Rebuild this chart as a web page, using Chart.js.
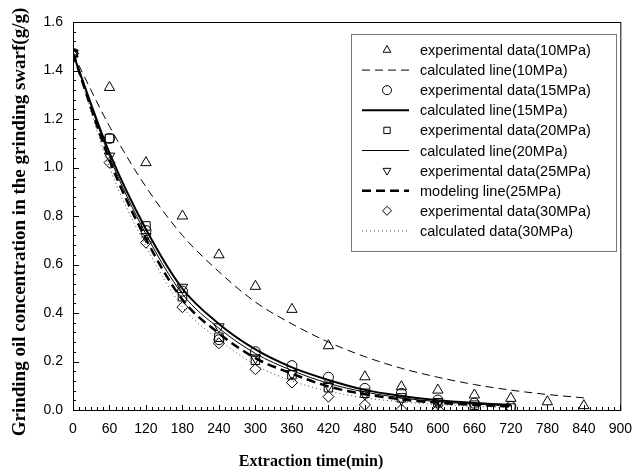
<!DOCTYPE html>
<html>
<head>
<meta charset="utf-8">
<script src="https://cdn.jsdelivr.net/npm/chart.js@4.4.0/dist/chart.umd.min.js"></script>
<style>
  html, body { margin: 0; padding: 0; background: #fff; }
  #wrap { width: 643px; height: 473px; }
</style>
</head>
<body>
<div id="wrap"><canvas id="chart" width="643" height="473"></canvas></div>
<script>
// Extraction times (min)
const times = [0, 60, 120, 180, 240, 300, 360, 420, 480, 540, 600, 660, 720, 780, 840];

// Experimental points
const exp10 = [1.47, 1.33, 1.02, 0.80, 0.64, 0.51, 0.415, 0.265, 0.137, 0.096, 0.082, 0.062, 0.048, 0.034, 0.018];
const exp15 = [1.47, 1.12, 0.74, 0.49, 0.29, 0.24, 0.183, 0.135, 0.089, 0.069, 0.041, 0.028, 0.015];
const exp20 = [1.47, 1.12, 0.759, 0.467, 0.30, 0.205, 0.145, 0.092, 0.069, 0.05, 0.03, 0.02, 0.008];
const exp25 = [1.47, 1.047, 0.715, 0.506, 0.343, 0.215, 0.15, 0.10, 0.065, 0.045, 0.025];
const exp30 = [1.47, 1.02, 0.69, 0.424, 0.275, 0.168, 0.113, 0.055, 0.021, 0.002, 0.002];

// Calculated / modeling lines, sampled every 60 min
const calc10 = [1.47, 1.17, 0.92, 0.72, 0.57, 0.445, 0.355, 0.28, 0.22, 0.172, 0.135, 0.105, 0.082, 0.064, 0.05];
const calc15 = [1.47, 1.06, 0.745, 0.50, 0.355, 0.25, 0.176, 0.124, 0.083, 0.058, 0.04, 0.029, 0.021];
const calc20 = [1.47, 1.045, 0.725, 0.478, 0.337, 0.233, 0.163, 0.11, 0.074, 0.05, 0.034, 0.024, 0.017];
const model25 = [1.47, 1.03, 0.705, 0.455, 0.316, 0.214, 0.15, 0.097, 0.065, 0.044, 0.03, 0.021, 0.015];
const calc30 = [1.47, 1.0, 0.675, 0.425, 0.29, 0.185, 0.12, 0.078, 0.05, 0.034, 0.022, 0.015, 0.01];

const labels = [
    'experimental data(10MPa)', 'calculated line(10MPa)',
    'experimental data(15MPa)', 'calculated line(15MPa)',
    'experimental data(20MPa)', 'calculated line(20MPa)',
    'experimental data(25MPa)', 'modeling line(25MPa)',
    'experimental data(30MPa)', 'calculated data(30MPa)'
];

const xTitle = 'Extraction time(min)';
const yTitle = 'Grinding oil concentration in the grinding swarf(g/g)';

function pts(vals) {
    return vals.map((v, i) => ({ x: times[i], y: v }));
}

function marker(label, vals, style, radius, rotation) {
    return {
        label: label, data: pts(vals), showLine: false,
        pointStyle: style, pointRadius: radius, pointRotation: rotation || 0,
        pointBorderColor: '#000', pointBackgroundColor: 'rgba(0,0,0,0)', pointBorderWidth: 1
    };
}

function line(label, vals, width, dash, color) {
    return {
        label: label, data: pts(vals), showLine: true, pointRadius: 0,
        borderColor: color || '#000', borderWidth: width, borderDash: dash,
        cubicInterpolationMode: 'monotone', fill: false
    };
}

// Draw a hollow marker (used by the legend)
function drawMark(ctx, style, rot, x, y, r) {
    ctx.beginPath();
    if (style === 'circle') {
        ctx.arc(x, y, r, 0, Math.PI * 2);
    } else if (style === 'rect') {
        const s = r * Math.SQRT1_2;
        ctx.rect(x - s, y - s, 2 * s, 2 * s);
    } else if (style === 'rectRot') {
        ctx.moveTo(x, y - r); ctx.lineTo(x + r, y); ctx.lineTo(x, y + r); ctx.lineTo(x - r, y); ctx.closePath();
    } else if (style === 'triangle') {
        const d = rot === 180 ? -1 : 1;
        ctx.moveTo(x, y - d * r);
        ctx.lineTo(x + r * 0.866, y + d * r / 2);
        ctx.lineTo(x - r * 0.866, y + d * r / 2);
        ctx.closePath();
    }
    ctx.stroke();
}

const framePlugin = {
    id: 'frame',
    afterDraw(chart) {
        const ctx = chart.ctx;
        const a = chart.chartArea;
        const xs = chart.scales.x, ys = chart.scales.y;
        ctx.save();
        ctx.strokeStyle = '#000';
        ctx.lineWidth = 1;
        ctx.setLineDash([]);
        ctx.strokeRect(a.left + 0.5, a.top + 0.5, a.right - a.left, a.bottom - a.top);

        // inward ticks
        ctx.beginPath();
        for (let v = 0; v <= 900; v += 10) {
            const px = Math.round(xs.getPixelForValue(v)) + 0.5;
            const len = v % 60 === 0 ? 5 : 3;
            ctx.moveTo(px, a.bottom); ctx.lineTo(px, a.bottom - len);
        }
        for (let i = 0; i <= 40; i++) {
            const py = Math.round(ys.getPixelForValue(i * 0.04)) + 0.5;
            const len = i % 5 === 0 ? 6 : 3;
            ctx.moveTo(a.left, py); ctx.lineTo(a.left + len, py);
        }
        ctx.stroke();

        // axis titles
        ctx.fillStyle = '#000';
        ctx.font = 'bold 16px "Liberation Serif", "Times New Roman", serif';
        ctx.textAlign = 'center';
        ctx.textBaseline = 'middle';
        ctx.fillText(xTitle, 311, 462);
        ctx.save();
        ctx.translate(20, 222);
        ctx.rotate(-Math.PI / 2);
        ctx.font = 'bold 19px "Liberation Serif", "Times New Roman", serif';
        ctx.fillText(yTitle, 0, 0);
        ctx.restore();

        // legend box
        ctx.strokeStyle = '#777';
        ctx.strokeRect(351.5, 34.5, 265, 217);
        ctx.font = '14.5px "Liberation Sans", Arial, sans-serif';
        ctx.textAlign = 'left';
        chart.data.datasets.forEach((ds, i) => {
            const y = 50 + i * 20.1;
            ctx.strokeStyle = ds.showLine ? (ds.borderColor || '#000') : '#000';
            if (ds.showLine) {
                ctx.lineWidth = ds.borderWidth;
                ctx.setLineDash(ds.borderDash || []);
                ctx.beginPath();
                ctx.moveTo(362, y); ctx.lineTo(409, y);
                ctx.stroke();
            } else {
                ctx.lineWidth = 1;
                ctx.setLineDash([]);
                drawMark(ctx, ds.pointStyle, ds.pointRotation, 387, y, 4.5);
            }
            ctx.fillStyle = '#000';
            ctx.fillText(ds.label, 420, y + 1);
        });
        ctx.restore();
    }
};

new Chart(document.getElementById('chart').getContext('2d'), {
    type: 'scatter',
    data: {
        datasets: [
            marker(labels[0], exp10, 'triangle', 6),
            line(labels[1], calc10, 1, [8, 5]),
            marker(labels[2], exp15, 'circle', 5),
            line(labels[3], calc15, 2, []),
            marker(labels[4], exp20, 'rect', 6),
            line(labels[5], calc20, 1, []),
            marker(labels[6], exp25, 'triangle', 6, 180),
            line(labels[7], model25, 2.5, [9, 5]),
            marker(labels[8], exp30, 'rectRot', 5.5),
            line(labels[9], calc30, 1, [1, 3], '#444')
        ]
    },
    options: {
        responsive: false,
        animation: false,
        layout: { padding: { left: 0, top: 22, right: 12, bottom: 0 } },
        plugins: {
            legend: { display: false },
            tooltip: { enabled: false }
        },
        scales: {
            x: {
                type: 'linear', min: 0, max: 900,
                afterFit: s => { s.height = 63; },
                grid: { display: false, drawTicks: false },
                border: { display: false },
                ticks: { stepSize: 60, padding: 11, color: '#000', font: { family: '"Liberation Sans", Arial, sans-serif', size: 14 } }
            },
            y: {
                type: 'linear', min: 0, max: 1.6,
                afterFit: s => { s.width = 73; },
                grid: { display: false, drawTicks: false },
                border: { display: false },
                ticks: {
                    stepSize: 0.2, padding: 10, color: '#000',
                    font: { family: '"Liberation Sans", Arial, sans-serif', size: 14 },
                    callback: v => v.toFixed(1)
                }
            }
        }
    },
    plugins: [framePlugin]
});
</script>
</body>
</html>
